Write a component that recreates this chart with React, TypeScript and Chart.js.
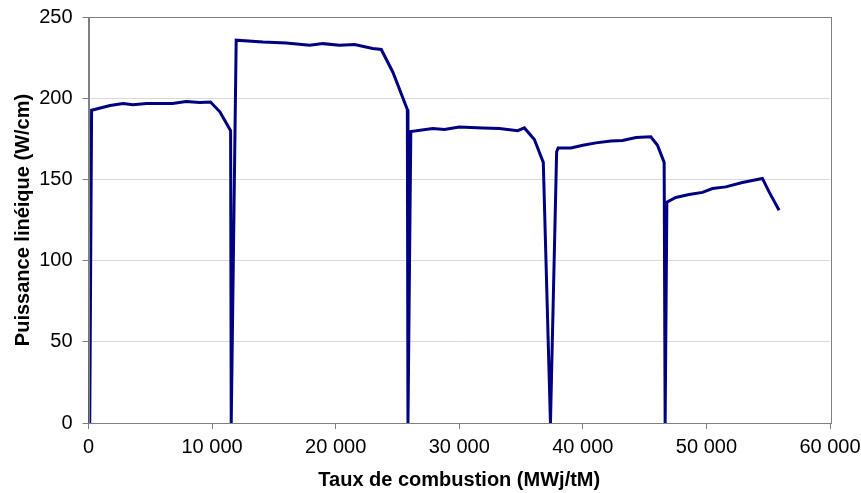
import React, { useEffect, useRef } from "react";
import { Chart, registerables } from "chart.js";

Chart.register(...registerables);

// Burnup (MWj/tM)
const burnup = [
  100, 250, 1750, 2800, 3600, 4700, 6800, 7900, 9000, 9870, 10630, 11500,
  11550, 11950, 14120, 16000, 17900, 18970, 20320, 21530, 23000, 23690, 24630, 25800,
  25850, 26080, 27860, 28800, 30000, 31900, 33250, 34730, 35270, 36080, 36800,
  37380, 37880, 38000, 39040, 40000, 41060, 42270, 43210, 44300, 45500, 46040, 46580,
  46660, 46800, 47520, 48600, 49680, 50490, 51570, 52910, 54530, 55070, 55880,
];
// Linear power (W/cm)
const power = [
  0, 192.6, 195.5, 196.7, 196, 196.7, 196.7, 198, 197.3, 197.7, 191.6, 180,
  0, 235.7, 234.6, 234, 232.6, 233.6, 232.6, 233, 230.6, 230, 216, 193,
  0, 179.5, 181.3, 180.7, 182.3, 181.7, 181.3, 180, 181.7, 174.6, 160.5,
  0, 167, 169.3, 169.3, 171, 172.5, 173.7, 174, 175.8, 176.2, 171, 160.5,
  0, 136, 138.9, 140.7, 142, 144.4, 145.4, 148.1, 150.6, 142.3, 131,
];

const xTicks = [0, 10000, 20000, 30000, 40000, 50000, 60000];
const yTicks = [0, 50, 100, 150, 200, 250];

const xTitle = "Taux de combustion (MWj/tM)";
const yTitle = "Puissance linéique (W/cm)";

const FONT = "'Liberation Sans', Arial, sans-serif";

const fmt = (v: number) =>
  String(Math.round(v)).replace(/\B(?=(\d{3})+(?!\d))/g, " ");

const frame = {
  id: "frame",
  afterDatasetsDraw(chart: any) {
    const { ctx, chartArea } = chart;
    ctx.save();
    ctx.strokeStyle = "#808080";
    ctx.lineWidth = 1;
    ctx.strokeRect(
      Math.round(chartArea.left) + 0.5,
      Math.round(chartArea.top) + 0.5,
      Math.round(chartArea.right - chartArea.left),
      Math.round(chartArea.bottom - chartArea.top)
    );
    ctx.restore();
  },
};

export default function App() {
  const ref = useRef<HTMLCanvasElement>(null);
  useEffect(() => {
    if (!ref.current) return;
    const data = burnup.map((x, i) => ({ x, y: power[i] }));
    const chart = new Chart(ref.current, {
      type: "line",
      data: {
        datasets: [
          {
            data,
            borderColor: "#000080",
            borderWidth: 3,
            pointRadius: 0,
            tension: 0,
            fill: false,
          },
        ],
      },
      options: {
        animation: false,
        responsive: true,
        maintainAspectRatio: false,
        layout: { padding: { top: 17, right: 31, left: 0, bottom: 0 } },
        plugins: { legend: { display: false }, tooltip: { enabled: false } },
        scales: {
          x: {
            type: "linear",
            min: 0,
            max: 60000,
            afterBuildTicks: (s: any) => {
              s.ticks = xTicks.map((v) => ({ value: v }));
            },
            afterFit: (s: any) => {
              s.height = 70;
              s.paddingLeft = 0;
              s.paddingRight = 0;
            },
            grid: {
              display: true,
              drawOnChartArea: false,
              tickLength: 6,
              tickColor: "#808080",
            },
            border: { color: "#808080" },
            ticks: {
              color: "#000",
              font: { family: FONT, size: 20 },
              padding: 6,
              maxRotation: 0,
              autoSkip: false,
              callback: (v: any) => fmt(Number(v)),
            },
            title: {
              display: true,
              text: xTitle,
              color: "#000",
              font: { family: FONT, size: 20, weight: "bold" },
              padding: { top: 0, bottom: 1 },
            },
          },
          y: {
            type: "linear",
            min: 0,
            max: 250,
            afterBuildTicks: (s: any) => {
              s.ticks = yTicks.map((v) => ({ value: v }));
            },
            afterFit: (s: any) => {
              s.width = 88.5;
              s.paddingTop = 0;
              s.paddingBottom = 0;
            },
            grid: {
              color: "#d9d9d9",
              tickLength: 6,
              tickColor: "#808080",
            },
            border: { color: "#808080" },
            ticks: {
              color: "#000",
              font: { family: FONT, size: 20 },
              padding: 10,
              autoSkip: false,
            },
            title: {
              display: true,
              text: yTitle,
              color: "#000",
              font: { family: FONT, size: 20, weight: "bold" },
              padding: { top: 11, bottom: 0 },
            },
          },
        },
      },
      plugins: [frame],
    } as any);
    return () => chart.destroy();
  }, []);
  return (
    <div
      style={{
        position: "fixed",
        left: 0,
        top: 0,
        width: 861,
        height: 493,
        background: "#fff",
      }}
    >
      <canvas ref={ref} />
    </div>
  );
}
